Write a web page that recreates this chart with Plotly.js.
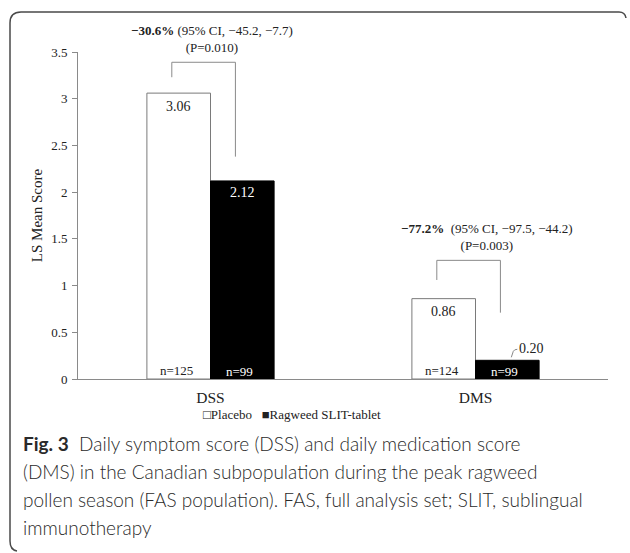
<!DOCTYPE html>
<html>
<head>
<meta charset="utf-8">
<script src="https://cdn.plot.ly/plotly-3.0.1.min.js"></script>
<style>
html,body{margin:0;padding:0;background:#fff;}
#chart{width:630px;height:553px;}
</style>
</head>
<body>
<div id="chart"></div>
<script>
// ---- data ----
var categories = ['DSS', 'DMS'];
var placeboValues = [3.06, 0.86];
var ragweedValues = [2.12, 0.20];
var placeboN = ['n=125', 'n=124'];
var ragweedN = ['n=99', 'n=99'];
var diffText = ['\u221230.6%', '\u221277.2%'];
var ciText = ['(95% CI, \u221245.2, \u22127.7)', '(95% CI, \u221297.5, \u221244.2)'];
var pText = ['(P=0.010)', '(P=0.003)'];
var bracketTop = [3.39, 1.27];
var bracketLeftEnd = [3.23, 1.06];
var bracketRightEnd = [2.38, 0.71];
var yTickVals = [0, 0.5, 1, 1.5, 2, 2.5, 3, 3.5];
var yTickText = ['0', '0.5', '1', '1.5', '2', '2.5', '3', '3.5'];
var seriesNames = ['Placebo', 'Ragweed SLIT-tablet'];
var legendSymbols = ['\u25A1', '\u25A0'];
var captionLines = [
  '<b>Fig. 3</b>  Daily symptom score (DSS) and daily medication score',
  '(DMS) in the Canadian subpopulation during the peak ragweed',
  'pollen season (FAS population). FAS, full analysis set; SLIT, sublingual',
  'immunotherapy'
];

// ---- geometry ----
var W = 630, H = 553;
var M = {l: 78, r: 22, t: 52, b: 174};
var PW = W - M.l - M.r, PH = H - M.t - M.b;
function px(x) { return (x - M.l) / PW; }
function py(y) { return (H - M.b - y) / PH; }

var bargap = 0.52;
var half = (1 - bargap) / 2;      // width of one bar (category units)
var off = half / 2;               // bar centre offset
var serif = 'Liberation Serif, Times New Roman, serif';
var txt = '#222';

var traces = [
  {type: 'bar', name: seriesNames[0], x: categories, y: placeboValues, showlegend: false,
   marker: {color: '#ffffff', line: {color: '#7a7a7a', width: 1}}, hoverinfo: 'x+y'},
  {type: 'bar', name: seriesNames[1], x: categories, y: ragweedValues, showlegend: false,
   marker: {color: '#000000', line: {color: '#000000', width: 1}}, hoverinfo: 'x+y'}
];

var annotations = [];
var shapes = [];
var bshift = -0.026;

categories.forEach(function (c, i) {
  // value labels
  annotations.push({x: i - off, y: placeboValues[i], xref: 'x', yref: 'y', text: placeboValues[i].toFixed(2),
    showarrow: false, yshift: -13, font: {family: serif, size: 14, color: txt}});
  if (ragweedValues[i] >= 0.4) {
    annotations.push({x: i + off, y: ragweedValues[i], xref: 'x', yref: 'y', text: ragweedValues[i].toFixed(2),
      showarrow: false, yshift: -12, font: {family: serif, size: 14, color: '#ffffff'}});
  } else {
    annotations.push({x: i + off, y: ragweedValues[i], xref: 'x', yref: 'y', text: ragweedValues[i].toFixed(2),
      showarrow: false, xshift: 24, yshift: 12, font: {family: serif, size: 14, color: txt}});
    shapes.push({type: 'path', xref: 'x', yref: 'y', xsizemode: 'pixel', ysizemode: 'pixel',
      xanchor: i + off, yanchor: ragweedValues[i],
      path: 'M4,3 L6,9 Q7,11 10,11', line: {color: '#888', width: 1}});
  }
  // n labels
  annotations.push({x: i - off, y: 0, xref: 'x', yref: 'y', text: placeboN[i], showarrow: false,
    yshift: 9, xshift: -2, font: {family: serif, size: 13, color: txt}});
  annotations.push({x: i + off, y: 0, xref: 'x', yref: 'y', text: ragweedN[i], showarrow: false,
    yshift: 8, xshift: -3, font: {family: serif, size: 13, color: '#ffffff'}});
  // brackets
  var xl = i - off + bshift, xr = i + off + bshift;
  var lc = {color: '#8a8a8a', width: 1};
  shapes.push({type: 'line', xref: 'x', yref: 'y', x0: xl, x1: xl, y0: bracketLeftEnd[i], y1: bracketTop[i], line: lc});
  shapes.push({type: 'line', xref: 'x', yref: 'y', x0: xl, x1: xr, y0: bracketTop[i], y1: bracketTop[i], line: lc});
  shapes.push({type: 'line', xref: 'x', yref: 'y', x0: xr, x1: xr, y0: bracketTop[i], y1: bracketRightEnd[i], line: lc});
  // difference text
  var gap = (i === 0) ? ' ' : '  ';
  annotations.push({x: i + (i === 0 ? 0.005 : 0.043), y: bracketTop[i], xref: 'x', yref: 'y',
    text: '<b>' + diffText[i] + '</b>' + gap + ciText[i] + '<br>' + pText[i],
    showarrow: false, yshift: 23, align: 'center', font: {family: serif, size: 13, color: txt}});
});

// legend (text line below the axis)
annotations.push({xref: 'paper', yref: 'paper', x: px(292), y: py(414), xanchor: 'center', yanchor: 'middle',
  showarrow: false,
  text: legendSymbols[0] + seriesNames[0] + '   ' + legendSymbols[1] + seriesNames[1],
  font: {family: serif, size: 13, color: txt}});

// caption
var capY = [443, 471, 499, 527];
captionLines.forEach(function (t, k) {
  annotations.push({xref: 'paper', yref: 'paper', x: px(21), y: py(capY[k]), xanchor: 'left', yanchor: 'middle',
    text: t, showarrow: false, align: 'left',
    font: {family: 'Lato, Noto Sans, sans-serif', size: 19, color: '#2a2a2a', weight: 300}});
});

// frame
var fr = 'M' + px(626) + ',' + py(18) +
  ' Q' + px(625) + ',' + py(12) + ' ' + px(619) + ',' + py(12) +
  ' L' + px(21) + ',' + py(12) +
  ' Q' + px(10) + ',' + py(12) + ' ' + px(10) + ',' + py(23) +
  ' L' + px(10) + ',' + py(541) +
  ' Q' + px(10) + ',' + py(550) + ' ' + px(17) + ',' + py(551);
shapes.push({type: 'path', xref: 'paper', yref: 'paper', path: fr, line: {color: '#4a4a4a', width: 1.5}});

var layout = {
  width: W, height: H,
  margin: M,
  paper_bgcolor: '#ffffff', plot_bgcolor: '#ffffff',
  barmode: 'group', bargap: bargap, bargroupgap: 0,
  showlegend: false,
  xaxis: {type: 'category', categoryorder: 'array', categoryarray: categories,
    showline: true, linecolor: '#8a8a8a', linewidth: 1, ticks: '', showgrid: false, zeroline: false,
    tickfont: {family: serif, size: 15.5, color: txt}, ticklabelstandoff: 4, fixedrange: true},
  yaxis: {range: [0, 3.5], tickvals: yTickVals, ticktext: yTickText, showline: true, linecolor: '#8a8a8a',
    linewidth: 1, ticks: 'outside', ticklen: 5, tickcolor: '#8a8a8a', showgrid: false, zeroline: false,
    tickfont: {family: serif, size: 13, color: txt}, ticklabelstandoff: 2,
    title: {text: 'LS Mean Score', font: {family: serif, size: 15, color: txt}, standoff: 4}, fixedrange: true},
  annotations: annotations,
  shapes: shapes,
  font: {family: serif}
};

Plotly.newPlot('chart', traces, layout, {displayModeBar: false, staticPlot: true});
</script>
</body>
</html>
